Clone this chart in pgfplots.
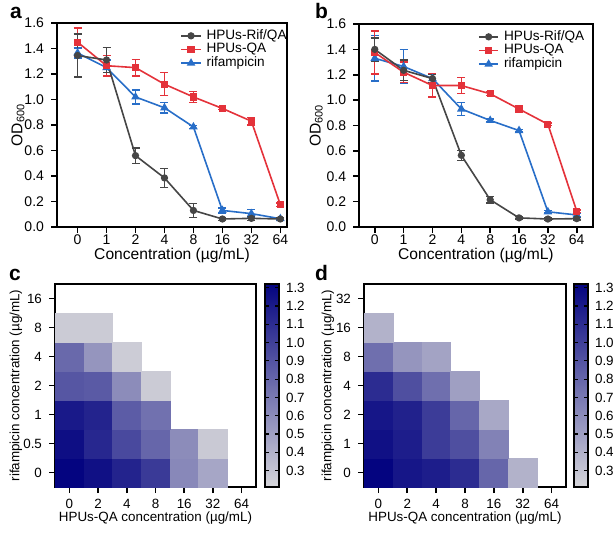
\documentclass[border=0pt]{standalone}
\usepackage{fontspec}
\setmainfont{Liberation Sans}
\usepackage{pgfplots}
\pgfplotsset{compat=1.18}
\definecolor{cgray}{RGB}{70,70,70}
\definecolor{cred}{RGB}{228,50,58}
\definecolor{cblue}{RGB}{40,110,200}
\pgfplotsset{
  lineax/.style={
    scale only axis,
    xmin=-0.6, xmax=7.4, ymin=0, ymax=1.6,
    xtick={0,...,7}, xticklabels={0,1,2,4,8,16,32,64},
    ytick={0,0.2,...,1.6},
    yticklabel style={/pgf/number format/.cd, fixed, fixed zerofill, precision=1},
    /pgf/number format/assume math mode=true,
    tick align=outside, major tick length=3pt,
    xtick pos=bottom, ytick pos=left,
    axis line style={line width=0.9pt},
    tick style={line width=0.8pt, black},
    ticklabel style={font=\fontsize{7}{8}\selectfont},
    xticklabel style={yshift=2.5pt},
    label style={font=\fontsize{7.8}{9}\selectfont},
    xlabel={Concentration (µg/mL)},
    ylabel={OD\textsubscript{600}},
    xlabel style={yshift=5.3pt},
    reverse legend,
    legend style={draw=none, fill=none, at={(1,1)}, anchor=north east,
      font=\fontsize{6.8}{7}\selectfont, row sep=-0.5pt, column sep=2pt, inner sep=0pt,
      nodes={inner sep=0.5pt}},
    legend cell align=left,
    legend image code/.code={\draw[mark repeat=2,mark phase=2] plot coordinates {(0cm,0cm)(0.17cm,0cm)(0.34cm,0cm)};},
    error bars/y dir=both, error bars/y explicit,
    error bars/error bar style={line width=0.7pt},
    error bars/error mark options={rotate=90, mark size=2pt, line width=0.7pt},
  },
  sgray/.style={cgray, line width=0.8pt, mark=*, mark size=1.4pt, mark options={solid}},
  sred/.style={cred, line width=0.8pt, mark=square*, mark size=1.4pt},
  sblue/.style={cblue, line width=0.8pt, mark=triangle*, mark size=1.7pt},
  heatax/.style={
    scale only axis,
    xmin=-0.5, xmax=6.5, ymin=-0.5, ymax=6.5,
    xtick={0,...,6}, ytick={0,...,6},
    xticklabels={0,2,4,8,16,32,64},
    tick align=outside, major tick length=3pt,
    xtick pos=bottom, ytick pos=left,
    axis line style={line width=0.9pt},
    tick style={line width=0.8pt, black},
    ticklabel style={font=\fontsize{6.7}{7}\selectfont},
    xticklabel style={yshift=0.5pt},
    label style={font=\fontsize{6.7}{8}\selectfont},
    xlabel={HPUs-QA concentration (µg/mL)},
    ylabel={rifampicin concentration (µg/mL)},
    xlabel style={yshift=5pt},
    colormap={od}{rgb255=(214,214,218) rgb255=(4,4,128)},
    point meta min=0.21, point meta max=1.32,
    colorbar,
    colorbar style={at={(parent axis.north east)}, anchor=north west, width=7pt,
      scale only axis,
      ytick={0.3,0.4,0.5,0.6,0.7,0.8,0.9,1.0,1.1,1.2,1.3},
      yticklabel style={font=\fontsize{6.7}{7}\selectfont, /pgf/number format/.cd, fixed, fixed zerofill, precision=1},
      /pgf/number format/assume math mode=true,
      tick align=inside, major tick length=1.8pt, yticklabel pos=right,
      axis line style={line width=0.8pt},
      tick style={line width=0.6pt, black}},
  },
  hmcells/.style={scatter, only marks, mark=square*, mark size=7.2pt,
    point meta=\thisrow{z},
    scatter/use mapped color={draw=mapped color, fill=mapped color},
    line width=0.1pt},
}
\begin{document}
\begin{tikzpicture}
\useasboundingbox (0,0) rectangle (307pt,-266pt);
% panel a
\begin{axis}[lineax, at={(28.5pt,-11.5pt)}, anchor=north west, width=115pt, height=102pt,
  xmin=-0.71, xmax=7.23, legend style={xshift=0.5pt, yshift=-2.5pt},
  ylabel style={at={(axis description cs:0,0.5)}, anchor=center, yshift=19.5pt}]
\addplot[sblue] table[x=x,y=y,y error=e] {
x y e
0 1.365 0.04
1 1.25 0.06
2 1.02 0.055
3 0.935 0.04
4 0.785 0.01
5 0.13 0.02
6 0.105 0.03
7 0.065 0.01
};
\addplot[sred] table[x=x,y=y,y error=e] {
x y e
0 1.45 0.11
1 1.265 0.08
2 1.25 0.065
3 1.12 0.09
4 1.02 0.045
5 0.93 0.01
6 0.83 0.03
7 0.175 0.012
};
\addplot[sgray] table[x=x,y=y,y error=e] {
x y e
0 1.345 0.17
1 1.31 0.10
2 0.56 0.06
3 0.385 0.075
4 0.13 0.055
5 0.063 0.01
6 0.068 0.015
7 0.063 0.01
};
\legend{rifampicin,HPUs-QA,HPUs-Rif/QA}
\end{axis}
% panel b
\begin{axis}[lineax, at={(179.6pt,-12pt)}, anchor=north west, width=116.7pt, height=101.5pt,
  xmin=-0.54, xmax=7.55, legend style={xshift=-3.5pt, yshift=-2.5pt},
  ylabel style={at={(axis description cs:0,0.5)}, anchor=center, yshift=21.5pt}]
\addplot[sblue] table[x=x,y=y,y error=e] {
x y e
0 1.33 0.18
1 1.265 0.135
2 1.17 0.04
3 0.93 0.05
4 0.84 0.01
5 0.76 0.01
6 0.12 0.01
7 0.095 0.01
};
\addplot[sred] table[x=x,y=y,y error=e] {
x y e
0 1.375 0.17
1 1.22 0.08
2 1.115 0.09
3 1.115 0.065
4 1.05 0.015
5 0.93 0.015
6 0.81 0.01
7 0.125 0.01
};
\addplot[sgray] table[x=x,y=y,y error=e] {
x y e
0 1.40 0.09
1 1.235 0.08
2 1.17 0.03
3 0.565 0.04
4 0.215 0.025
5 0.072 0.01
6 0.063 0.01
7 0.066 0.01
};
\legend{rifampicin,HPUs-QA,HPUs-Rif/QA}
\end{axis}
% panel c
\begin{axis}[heatax, at={(27.5pt,-142pt)}, anchor=north west, width=100.5pt, height=101.5pt,
  yticklabels={0,0.5,1,2,4,8,16}, colorbar style={xshift=-4.04pt},
  ylabel style={at={(axis description cs:0,0.5)}, anchor=center, yshift=19.5pt}]
\addplot[hmcells] table[x=x,y=y] {
x y z
0 0 1.32
1 0 1.25
2 0 1.15
3 0 1.03
4 0 0.62
5 0 0.46
0 1 1.26
1 1 1.13
2 1 0.95
3 1 0.80
4 1 0.60
5 1 0.28
0 2 1.20
1 2 1.15
2 2 0.85
3 2 0.74
0 3 0.88
1 3 0.86
2 3 0.60
3 3 0.27
0 4 0.78
1 4 0.55
2 4 0.26
0 5 0.27
1 5 0.27
};
\end{axis}
% panel d
\begin{axis}[heatax, at={(182pt,-142pt)}, anchor=north west, width=101pt, height=101.5pt,
  yticklabels={0,1,2,4,8,16,32}, colorbar style={xshift=-4.54pt},
  ylabel style={at={(axis description cs:0,0.5)}, anchor=center, yshift=18pt}]
\addplot[hmcells] table[x=x,y=y] {
x y z
0 0 1.32
1 0 1.22
2 0 1.18
3 0 1.10
4 0 0.80
5 0 0.40
0 1 1.25
1 1 1.18
2 1 1.02
3 1 0.92
4 1 0.65
0 2 1.22
1 2 1.16
2 2 1.02
3 2 0.80
4 2 0.45
0 3 1.10
1 3 0.92
2 3 0.75
3 3 0.50
0 4 0.75
1 4 0.55
2 4 0.48
0 5 0.40
};
\end{axis}
\node[font=\bfseries\fontsize{10.5}{12}\selectfont, anchor=base west] at (1.5pt,-9pt) {a};
\node[font=\bfseries\fontsize{10.5}{12}\selectfont, anchor=base west] at (154pt,-9pt) {b};
\node[font=\bfseries\fontsize{10.5}{12}\selectfont, anchor=base west] at (1pt,-140pt) {c};
\node[font=\bfseries\fontsize{10.5}{12}\selectfont, anchor=base west] at (154pt,-140pt) {d};
\end{tikzpicture}
\end{document}
